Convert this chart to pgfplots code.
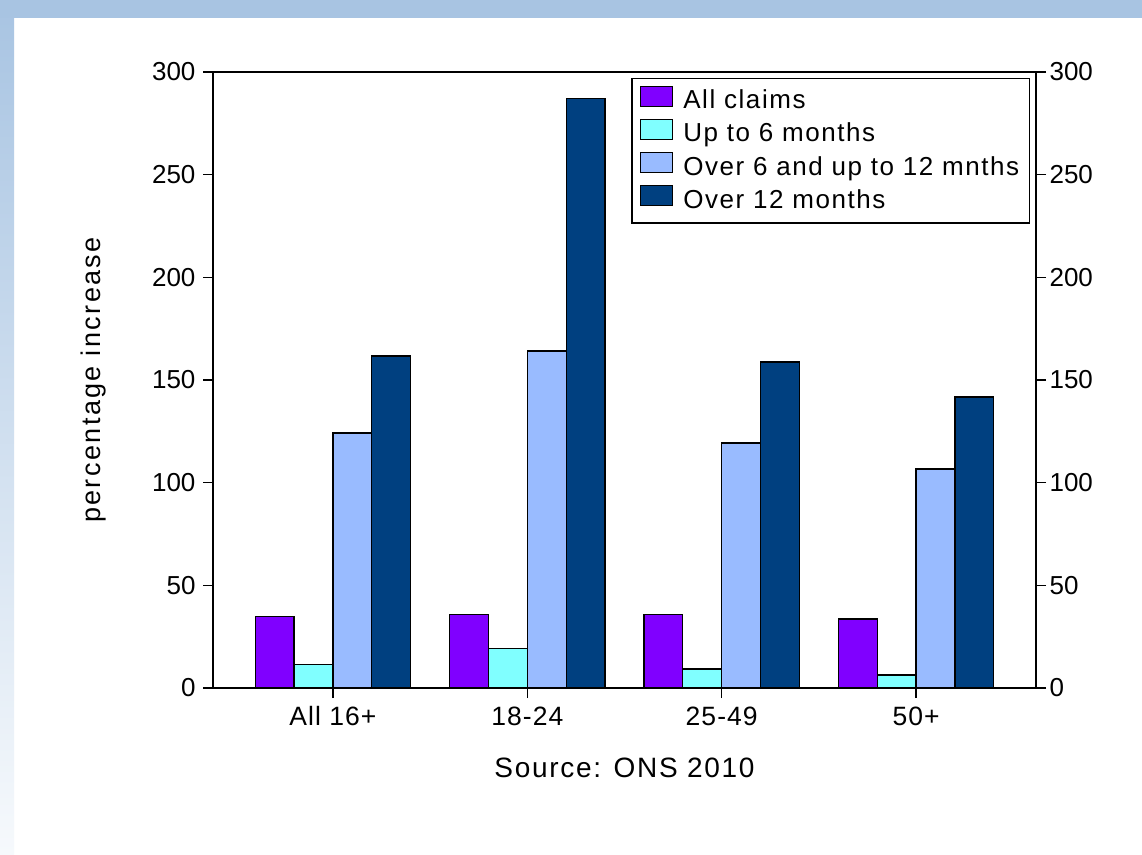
\documentclass[border=0pt]{standalone}
\usepackage{pgfplots}
\pgfplotsset{compat=1.18}
\usepackage{fontspec}
\setmainfont{Liberation Sans}

\definecolor{slideblue}{HTML}{A8C4E2}
\definecolor{slidepale}{HTML}{F6F9FC}
\definecolor{cAll}{HTML}{8000FF}
\definecolor{cSix}{HTML}{80FFFF}
\definecolor{cTwelve}{HTML}{99BBFF}
\definecolor{cOver}{HTML}{004080}

\begin{document}
\begin{tikzpicture}
\useasboundingbox (0pt,0pt) rectangle (1142pt,854pt);
% slide background
\fill[white] (0pt,0pt) rectangle (1142pt,854pt);
\shade[top color=slideblue, bottom color=slidepale] (0pt,0pt) rectangle (14pt,854pt);
\fill[slideblue] (0pt,836pt) rectangle (1142pt,854pt);

\pgfplotsset{
  common/.style={
    at={(213pt,166pt)}, anchor=south west, scale only axis,
    width=823pt, height=616pt,
    xmin=-0.617, xmax=3.617, ymin=0, ymax=300,
    ytick={0,50,...,300},
    tick align=outside, major tick length=10pt,
    axis line style={black, line width=1.6pt},
    every tick/.append style={black, line width=1.6pt},
    yticklabel style={font=\fontsize{26}{30}\selectfont},
    /pgf/number format/assume math mode=true,
  }
}

\begin{axis}[common,
  ybar=0pt, bar width=0.2,
  xtick={0,1,2,3}, xticklabels={All 16+,18-24,25-49,50+},
  xticklabel style={font=\fontsize{26.5}{30}\selectfont\addfontfeatures{LetterSpace=4}, yshift=-5pt},
  yticklabel style={xshift=-4pt},
  ytick pos=left, xtick pos=bottom,
  ylabel={percentage increase},
  ylabel style={at={(axis description cs:-0.1446,0.5)}, anchor=center,
    font=\fontsize{27}{32}\selectfont\addfontfeatures{LetterSpace=9}},
  xlabel={Source: ONS 2010},
  xlabel style={at={(axis description cs:0.5,-0.13)}, anchor=center,
    font=\fontsize{28}{32}\selectfont\addfontfeatures{LetterSpace=6}},
  legend image code/.code={\draw[#1] (0pt,-4pt) rectangle (32pt,16pt);},
  legend cell align=left,
  legend style={at={(1,1)}, anchor=north east, xshift=-6pt, yshift=-6pt,
    draw=black, line width=1.5pt, fill=white,
    inner xsep=8pt, inner ysep=7pt, row sep=2pt,
    /tikz/every odd column/.append style={column sep=8pt},
    font=\fontsize{26}{30}\selectfont\addfontfeatures{LetterSpace=6},
    nodes={text height=19pt, text depth=6pt, inner ysep=2pt}},
  every axis plot/.append style={draw=black, line width=1.2pt},
]
\addplot[fill=cAll] coordinates {(0,34.7) (1,35.9) (2,35.9) (3,33.6)};
\addlegendentry{All claims}
\addplot[fill=cSix] coordinates {(0,11.5) (1,19.3) (2,9.3) (3,6.3)};
\addlegendentry{Up to 6 months}
\addplot[fill=cTwelve] coordinates {(0,124.2) (1,164.1) (2,119.3) (3,106.7)};
\addlegendentry{Over 6 and up to 12 mnths}
\addplot[fill=cOver] coordinates {(0,161.7) (1,286.9) (2,158.8) (3,141.7)};
\addlegendentry{Over 12 months}
\end{axis}

% right-hand value axis
\begin{axis}[common,
  axis x line=none, axis y line*=right,
]
\addplot[draw=none] coordinates {(0,0)};
\end{axis}
\end{tikzpicture}
\end{document}
